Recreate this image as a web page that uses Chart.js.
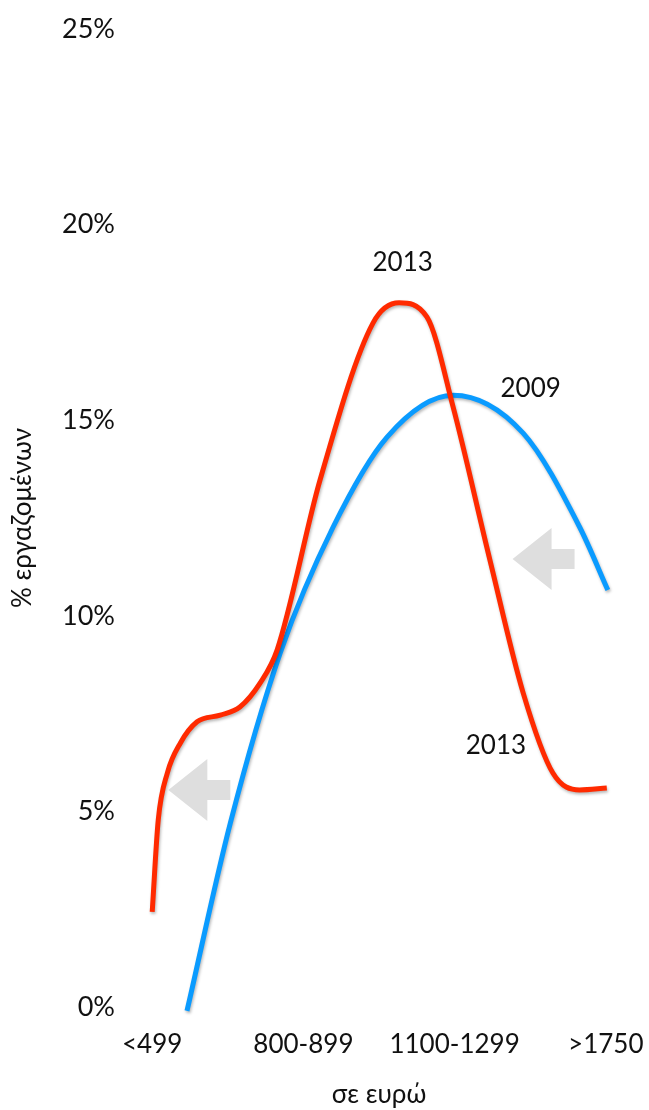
<!DOCTYPE html>
<html>
<head>
<meta charset="utf-8">
<script src="https://cdn.jsdelivr.net/npm/chart.js@4.4.0/dist/chart.umd.min.js"></script>
<style>
  html, body { margin: 0; padding: 0; background: #ffffff; }
  #wrap { width: 649px; height: 1110px; position: relative; }
</style>
</head>
<body>
<div id="wrap"><canvas id="c"></canvas></div>
<script>
// ---- data (x in category-position units, y in %) ----
const tickValues = [0, 3, 6, 9];
const tickLabels = ['<499', '800-899', '1100-1299', '>1750'];

const x2013 = [0.00, 0.12, 0.30, 0.56, 0.89, 1.35, 1.74, 2.14, 2.48, 3.33, 4.38, 4.90, 5.45, 5.97, 6.70, 7.36, 7.95, 8.48, 9.02];
const y2013 = [2.43, 4.78, 5.98, 6.75, 7.29, 7.46, 7.67, 8.28, 9.13, 13.47, 17.48, 18.00, 17.64, 15.34, 11.43, 8.03, 5.98, 5.55, 5.60];

const x2009 = [0.69, 1.55, 2.54, 3.59, 4.66, 5.97, 7.36, 8.48, 9.04];
const y2009 = [-0.10, 4.70, 9.05, 12.27, 14.57, 15.64, 14.67, 12.27, 10.66];

const seriesNames = ['2013', '2009'];
const yTitle = '% εργαζομένων';
const xTitle = 'σε ευρώ';

const FONT = 'Lato, "Liberation Sans", sans-serif';

const annotations = {
  labels: [
    { text: '2013', x: 4.97, y: 19.02 },
    { text: '2009', x: 7.51, y: 15.80 },
    { text: '2013', x: 6.82, y: 6.68 }
  ],
  arrows: [
    { x: 0.32, y: 5.55 },
    { x: 7.15, y: 11.45 }
  ]
};

const zip = (xs, ys) => xs.map((x, i) => ({ x: x, y: ys[i] }));

const decoPlugin = {
  id: 'deco',
  beforeDatasetsDraw(chart) {
    const ctx = chart.ctx, xs = chart.scales.x, ys = chart.scales.y;
    ctx.save();
    ctx.fillStyle = '#dedede';
    annotations.arrows.forEach(a => {
      const tx = xs.getPixelForValue(a.x), ty = ys.getPixelForValue(a.y);
      ctx.beginPath();
      ctx.moveTo(tx, ty);
      ctx.lineTo(tx + 39, ty - 31);
      ctx.lineTo(tx + 39, ty - 10);
      ctx.lineTo(tx + 62, ty - 10);
      ctx.lineTo(tx + 62, ty + 10);
      ctx.lineTo(tx + 39, ty + 10);
      ctx.lineTo(tx + 39, ty + 31);
      ctx.closePath();
      ctx.fill();
    });
    ctx.restore();
    ctx.save();
    ctx.shadowColor = 'rgba(0,0,0,0.28)';
    ctx.shadowBlur = 3;
    ctx.shadowOffsetX = 1;
    ctx.shadowOffsetY = 2;
  },
  afterDatasetsDraw(chart) {
    const ctx = chart.ctx, xs = chart.scales.x, ys = chart.scales.y;
    ctx.restore();
    ctx.save();
    ctx.fillStyle = '#111111';
    ctx.font = '26px ' + FONT;
    ctx.textAlign = 'center';
    ctx.textBaseline = 'middle';
    annotations.labels.forEach(l => {
      ctx.fillText(l.text, xs.getPixelForValue(l.x), ys.getPixelForValue(l.y));
    });
    ctx.restore();
  }
};

new Chart(document.getElementById('c'), {
  type: 'line',
  data: {
    datasets: [
      {
        label: seriesNames[0],
        data: zip(x2013, y2013),
        borderColor: '#ff2a00',
        borderWidth: 5,
        pointRadius: 0,
        fill: false,
        cubicInterpolationMode: 'monotone',
        clip: false
      },
      {
        label: seriesNames[1],
        data: zip(x2009, y2009),
        borderColor: '#0a9bff',
        borderWidth: 5,
        pointRadius: 0,
        fill: false,
        cubicInterpolationMode: 'monotone',
        clip: false
      }
    ]
  },
  options: {
    responsive: true,
    maintainAspectRatio: false,
    animation: false,
    layout: { padding: { top: 29, right: 18, bottom: 0, left: 0 } },
    plugins: {
      legend: { display: false },
      tooltip: { enabled: false }
    },
    scales: {
      x: {
        type: 'linear',
        min: -0.5,
        max: 9.5,
        grid: { display: false, drawTicks: false },
        border: { display: false },
        afterBuildTicks: (axis) => { axis.ticks = tickValues.map(v => ({ value: v })); },
        afterFit: (axis) => { axis.height = 103; axis.paddingLeft = 0; axis.paddingRight = 0; },
        ticks: {
          autoSkip: false,
          maxRotation: 0,
          padding: 22,
          color: '#111111',
          font: { family: FONT, size: 26 },
          callback: (v) => { const i = tickValues.indexOf(v); return i >= 0 ? tickLabels[i] : ''; }
        },
        title: {
          display: true,
          text: xTitle,
          color: '#111111',
          font: { family: FONT, size: 26 },
          padding: { top: 0, bottom: 0 }
        }
      },
      y: {
        min: 0,
        max: 25,
        grid: { display: false, drawTicks: false },
        border: { display: false },
        afterFit: (axis) => { axis.width = 127; axis.paddingTop = 0; axis.paddingBottom = 0; },
        ticks: {
          stepSize: 5,
          padding: 12,
          color: '#111111',
          font: { family: FONT, size: 27 },
          callback: (v) => v + '%'
        },
        title: {
          display: true,
          text: yTitle,
          color: '#111111',
          font: { family: FONT, size: 26 },
          padding: { top: 7, bottom: 0 }
        }
      }
    }
  },
  plugins: [decoPlugin]
});
</script>
</body>
</html>
